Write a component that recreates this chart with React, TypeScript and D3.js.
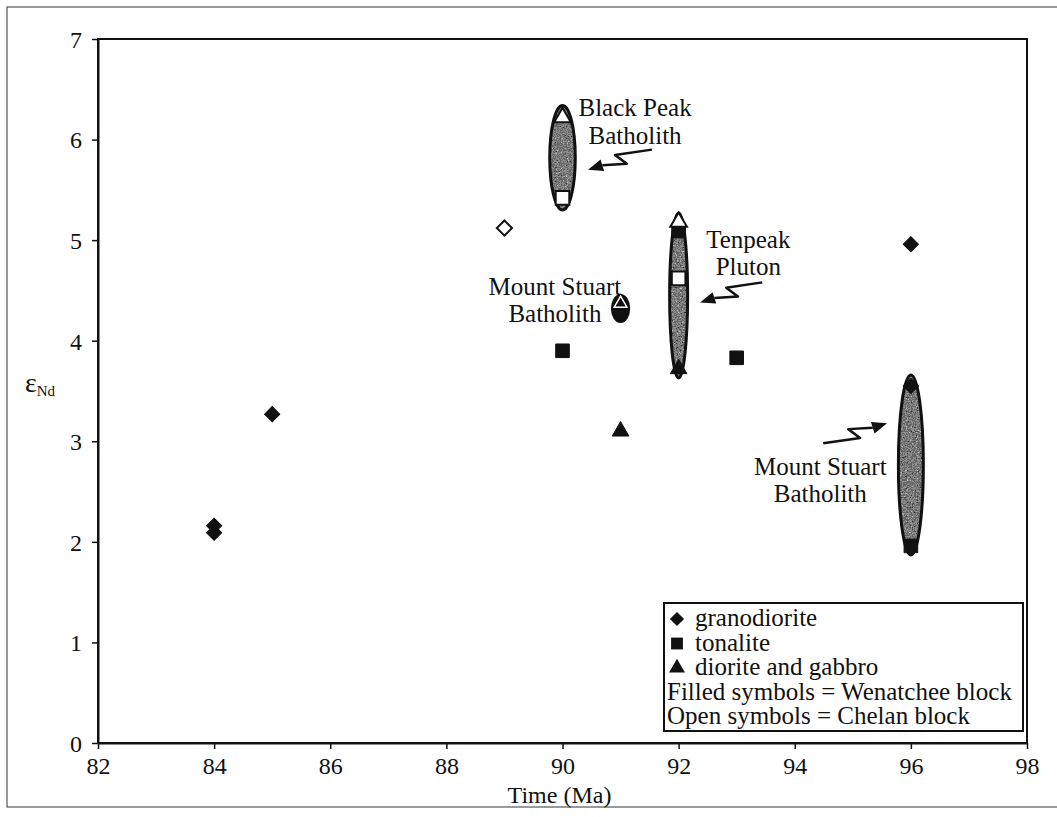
import React, {Component} from 'react';
import * as d3 from 'd3';

// [time (Ma), eNd]
const granodioriteFilled = [[84, 2.16], [84, 2.09], [85, 3.27], [96, 4.96], [91, 4.28], [96, 3.55]];
const granodioriteOpen = [[89, 5.12]];
const tonaliteFilled = [[90, 3.9], [93, 3.83], [96, 1.96], [92, 5.09]];
const tonaliteOpen = [[90, 5.42], [92, 4.62]];
const dioriteFilled = [[91, 3.1], [92, 3.72], [91, 4.37]];
const dioriteOpen = [[90, 6.22], [92, 5.18]];

// shaded fields: centre x, centre y, half width (Ma), half height (eNd)
const fields = [
  {x: 90, y: 5.82, rx: 0.22, ry: 0.52, dark: false},
  {x: 92, y: 4.45, rx: 0.155, ry: 0.82, dark: false},
  {x: 96, y: 2.765, rx: 0.215, ry: 0.895, dark: false},
  {x: 91, y: 4.32, rx: 0.14, ry: 0.13, dark: true},
];

const labels = [
  {x: 91.25, lines: [['Black Peak', 6.23], ['Batholith', 5.96]]},
  {x: 93.2, lines: [['Tenpeak', 4.92], ['Pluton', 4.65]]},
  {x: 89.87, lines: [['Mount Stuart', 4.45], ['Batholith', 4.19]]},
  {x: 94.44, lines: [['Mount Stuart', 2.66], ['Batholith', 2.4]]},
];

// zigzag arrows: tail -> tip
const arrows = [
  [[91.54, 5.9], [90.44, 5.7]],
  [[93.44, 4.58], [92.37, 4.38]],
  [[94.49, 2.98], [95.59, 3.18]],
];

const xTicks = [82, 84, 86, 88, 90, 92, 94, 96, 98];
const yTicks = [0, 1, 2, 3, 4, 5, 6, 7];
const legendItems = ['granodiorite', 'tonalite', 'diorite and gabbro'];
const legendNotes = ['Filled symbols = Wenatchee block', 'Open symbols = Chelan block'];

const FONT = '"Liberation Serif", "Times New Roman", serif';

class App extends Component {
  chartRef: any;
  constructor(props) {
    super(props);
    this.Graph = this.Graph.bind(this);
    this.chartRef = React.createRef();
  }

  Graph() {
    const W = 1057, H = 817;
    const left = 98, right = 1027, top = 39, bottom = 743;

    const x = d3.scaleLinear().domain([82, 98]).range([left, right]);
    const y = d3.scaleLinear().domain([0, 7]).range([bottom, top]);

    const svg = d3.select(this.chartRef.current);
    svg.selectAll('*').remove();
    svg.attr('width', W).attr('height', H);

    // speckled grey texture for the fields
    const defs = svg.append('defs');
    const f = defs.append('filter').attr('id', 'speckle')
      .attr('color-interpolation-filters', 'sRGB')
      .attr('x', '-30%').attr('y', '-10%').attr('width', '160%').attr('height', '120%');
    f.append('feTurbulence').attr('type', 'fractalNoise').attr('baseFrequency', 0.8)
      .attr('numOctaves', 2).attr('seed', 5).attr('result', 'noise');
    f.append('feColorMatrix').attr('in', 'noise').attr('type', 'saturate').attr('values', 0).attr('result', 'g');
    const ct = f.append('feComponentTransfer').attr('in', 'g').attr('result', 'c');
    ['feFuncR', 'feFuncG', 'feFuncB'].forEach(n =>
      ct.append(n).attr('type', 'discrete').attr('tableValues', '0.05 0.2 0.4 0.55 0.75 0.95'));
    ct.append('feFuncA').attr('type', 'linear').attr('slope', 0).attr('intercept', 1);
    f.append('feComposite').attr('in', 'c').attr('in2', 'SourceGraphic').attr('operator', 'in');

    svg.append('rect').attr('width', W).attr('height', H).attr('fill', '#fff');

    // outer frame
    svg.append('rect').attr('x', 7).attr('y', 7).attr('width', W + 10).attr('height', 800)
      .attr('fill', 'none').attr('stroke', '#555').attr('stroke-width', 1.2);

    // plot area frame
    svg.append('rect').attr('x', left).attr('y', top).attr('width', right - left).attr('height', bottom - top)
      .attr('fill', 'none').attr('stroke', '#111').attr('stroke-width', 2);

    // axes
    const xa = svg.append('g').attr('transform', `translate(0,${bottom})`)
      .call(d3.axisBottom(x).tickValues(xTicks).tickFormat(d3.format('d')).tickSize(6).tickSizeOuter(0).tickPadding(6));
    const ya = svg.append('g').attr('transform', `translate(${left},0)`)
      .call(d3.axisLeft(y).tickValues(yTicks).tickFormat(d3.format('d')).tickSize(6).tickSizeOuter(0).tickPadding(10));
    [xa, ya].forEach(a => {
      a.select('.domain').attr('stroke', '#111').attr('stroke-width', 2);
      a.selectAll('line').attr('stroke', '#111').attr('stroke-width', 1.5);
      a.selectAll('text').attr('font-family', FONT).attr('font-size', 24).attr('fill', '#111');
    });
    xa.selectAll('text').attr('dy', '0.8em');
    ya.selectAll('text').attr('dy', '0.35em');

    // axis titles
    svg.append('text').attr('x', (left + right) / 2 - 3).attr('y', 803).attr('text-anchor', 'middle')
      .attr('font-family', FONT).attr('font-size', 24).attr('fill', '#111').text('Time (Ma)');
    const yl = svg.append('text').attr('x', 25).attr('y', 392)
      .attr('font-family', FONT).attr('fill', '#111');
    yl.append('tspan').attr('font-size', 28).text('ε');
    yl.append('tspan').attr('font-size', 15).attr('dy', 4).text('Nd');

    // fields
    const fg = svg.append('g');
    fields.forEach(d => {
      const cx = x(d.x), cy = y(d.y);
      const rx = x(d.x + d.rx) - cx, ry = y(d.y - d.ry) - cy;
      if (!d.dark) {
        fg.append('ellipse').attr('cx', cx).attr('cy', cy).attr('rx', rx).attr('ry', ry)
          .attr('fill', '#777').attr('filter', 'url(#speckle)');
      }
      fg.append('ellipse').attr('cx', cx).attr('cy', cy).attr('rx', rx).attr('ry', ry)
        .attr('fill', d.dark ? '#111' : 'none').attr('stroke', '#111').attr('stroke-width', 3);
    });

    // symbols
    const diamond = d3.symbol().type(d3.symbolSquare).size(115)();
    const square = d3.symbol().type(d3.symbolSquare).size(185)();
    const triangle = d3.symbol().type(d3.symbolTriangle).size(120)();

    const pts = svg.append('g');
    const drawSet = (data, path, filled, rot) => {
      pts.selectAll(null).data(data).enter().append('path')
        .attr('d', path)
        .attr('transform', d => `translate(${x(d[0])},${y(d[1])}) rotate(${rot})`)
        .attr('fill', filled ? '#111' : '#fff')
        .attr('stroke', '#111')
        .attr('stroke-width', filled ? 1 : 2);
    };
    drawSet(granodioriteFilled, diamond, true, 45);
    drawSet(granodioriteOpen, diamond, false, 45);
    drawSet(tonaliteFilled, square, true, 0);
    drawSet(tonaliteOpen, square, false, 0);
    drawSet(dioriteFilled, triangle, true, 0);
    drawSet(dioriteOpen, triangle, false, 0);
    // triangle inside the small dark field shows a white rim
    pts.selectAll(null).data([dioriteFilled[2]]).enter().append('path')
      .attr('d', d3.symbol().type(d3.symbolTriangle).size(70)())
      .attr('transform', d => `translate(${x(d[0])},${y(d[1])})`)
      .attr('fill', '#111').attr('stroke', '#fff').attr('stroke-width', 1.5);

    // annotation labels
    labels.forEach(l => {
      l.lines.forEach(([t, v]) => {
        svg.append('text').attr('x', x(l.x)).attr('y', y(v)).attr('text-anchor', 'middle')
          .attr('font-family', FONT).attr('font-size', 25).attr('fill', '#111').text(t);
      });
    });

    // zigzag arrows
    const ag = svg.append('g');
    arrows.forEach(([a, b]) => {
      const x0 = x(a[0]), y0 = y(a[1]), x1 = x(b[0]), y1 = y(b[1]);
      const dx = x1 - x0, dy = y1 - y0, L = Math.hypot(dx, dy);
      const ux = dx / L, uy = dy / L, nx = -uy, ny = ux;
      const p = (t, o) => [x0 + dx * t + nx * o, y0 + dy * t + ny * o];
      const head = 15;
      const bx = x1 - ux * head, by = y1 - uy * head;
      const line = d3.line().curve(d3.curveLinear);
      ag.append('path')
        .attr('d', line([[x0, y0], p(0.55, 6), p(0.42, -6), [bx, by]]))
        .attr('fill', 'none').attr('stroke', '#111').attr('stroke-width', 2.5).attr('stroke-linejoin', 'round');
      ag.append('path')
        .attr('d', line([[x1, y1], [bx + nx * 6, by + ny * 6], [bx - nx * 6, by - ny * 6]]) + 'Z')
        .attr('fill', '#111');
    });

    // legend
    const lx = 664, ly = 603, lw = 359, lh = 128, step = 24.5;
    const lg = svg.append('g');
    lg.append('rect').attr('x', lx).attr('y', ly).attr('width', lw).attr('height', lh)
      .attr('fill', '#fff').attr('stroke', '#111').attr('stroke-width', 2);
    const legendSym = [[45, 100], [0, 140], [0, 110]];
    legendItems.forEach((t, i) => {
      const base = ly + 23 + i * step;
      lg.append('path').attr('d', d3.symbol().type(i === 2 ? d3.symbolTriangle : d3.symbolSquare).size(legendSym[i][1])())
        .attr('transform', `translate(${lx + 13},${base - 7}) rotate(${legendSym[i][0]})`).attr('fill', '#111');
      lg.append('text').attr('x', lx + 31).attr('y', base)
        .attr('font-family', FONT).attr('font-size', 25).attr('fill', '#111').text(t);
    });
    legendNotes.forEach((t, i) => {
      lg.append('text').attr('x', lx + 3).attr('y', ly + 23 + (i + 3) * step)
        .attr('font-family', FONT).attr('font-size', 25).attr('fill', '#111').text(t);
    });
  }

  componentDidMount() {
    this.Graph();
  }

  componentDidUpdate() {
    this.Graph();
  }

  render() {
    return <svg ref={this.chartRef} width={1057} height={817}
      style={{position: 'absolute', left: 0, top: 0, display: 'block'}} />;
  }
}

export default App;
